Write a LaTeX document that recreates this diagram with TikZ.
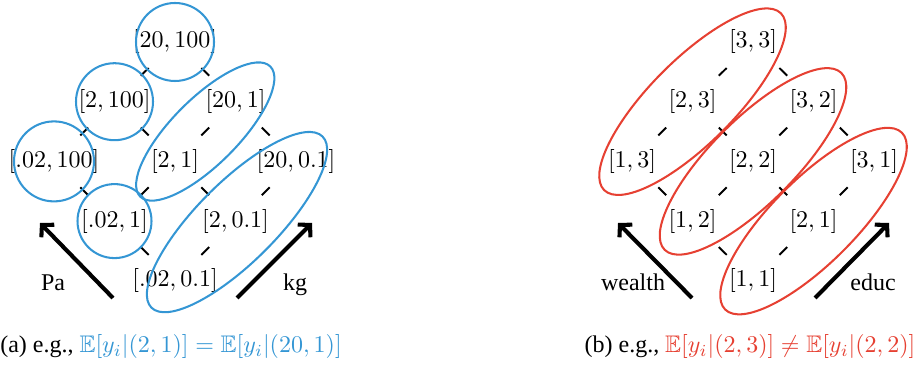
\documentclass[tikz,border=0pt]{standalone}
\usepackage[no-math]{fontspec}
\setmainfont{Liberation Serif}
\newfontfamily\tnr{Liberation Serif}
\usepackage{amssymb}
\usetikzlibrary{arrows.meta,calc}
\definecolor{myblue}{RGB}{52,150,212}
\definecolor{myred}{RGB}{230,64,50}
\tikzset{
  lbl/.style={inner sep=0pt},
  conn/.style={line width=0.8pt},
  ring/.style={line width=0.85pt},
  arr/.style={line width=1.7pt,-{Straight Barb[length=3.5pt,width=7.5pt]}},
  axlab/.style={inner sep=0pt,anchor=base,font=\tnr},
}
\newcommand{\dashlink}[2]{\draw[conn] ($(#1)!0.435!(#2)$) -- ($(#1)!0.565!(#2)$);}
\begin{document}
\begin{tikzpicture}[x=0.4167pt,y=-0.4167pt]
\useasboundingbox (0,0) rectangle (920,370);
% ---------- left lattice ----------
\node[lbl] (a22) at (175,42) {$[20,100]$};
\node[lbl] (a12) at (114.5,101.7) {$[2,100]$};
\node[lbl] (a21) at (235.5,101.7) {$[20,1]$};
\node[lbl] (a02) at (54,161.4) {$[.02,100]$};
\node[lbl] (a11) at (175,161.4) {$[2,1]$};
\node[lbl] (a20) at (296,161.4) {$[20,0.1]$};
\node[lbl] (a01) at (114.5,221.1) {$[.02,1]$};
\node[lbl] (a10) at (235.5,221.1) {$[2,0.1]$};
\node[lbl] (a00) at (175,280.8) {$[.02,0.1]$};
\dashlink{a22}{a12}
\dashlink{a22}{a21}
\dashlink{a12}{a02}
\dashlink{a12}{a11}
\dashlink{a21}{a11}
\dashlink{a21}{a20}
\dashlink{a02}{a01}
\dashlink{a11}{a01}
\dashlink{a11}{a10}
\dashlink{a20}{a10}
\dashlink{a01}{a00}
\dashlink{a10}{a00}
\draw[ring,myblue] (a22) circle (39);
\draw[ring,myblue] (a12) circle (38.5);
\draw[ring,myblue] (a02) circle (40);
\draw[ring,myblue] (a01) circle (37);
\coordinate (ea) at ($(a21)!0.5!(a11)$);
\draw[ring,myblue,rotate around={45:(ea)}] (ea) ellipse [x radius=92,y radius=33];
\coordinate (eb) at ($(a10)+(1.5,1)$);
\draw[ring,myblue,rotate around={45:(eb)}] (eb) ellipse [x radius=121,y radius=40];
\coordinate (pa0) at (113,298);
\coordinate (pa1) at (40,223);
\coordinate (kg0) at (237,298);
\coordinate (kg1) at (312,223);
\draw[arr] (pa0) -- (pa1);
\draw[arr] (kg0) -- (kg1);
\node[axlab] (pa) at (53,291) {Pa};
\node[axlab] (kg) at (295,291) {kg};
\node[axlab] (capa) at (171,352.5) {(a) e.g., \textcolor{myblue}{$\mathbb{E}[y_i|(2,1)]=\mathbb{E}[y_i|(20,1)]$}};
% ---------- right lattice ----------
\node[lbl] (b33) at (753,42) {$[3,3]$};
\node[lbl] (b23) at (692.5,101.7) {$[2,3]$};
\node[lbl] (b32) at (813.5,101.7) {$[3,2]$};
\node[lbl] (b13) at (632,161.4) {$[1,3]$};
\node[lbl] (b22) at (753,161.4) {$[2,2]$};
\node[lbl] (b31) at (874,161.4) {$[3,1]$};
\node[lbl] (b12) at (692.5,221.1) {$[1,2]$};
\node[lbl] (b21) at (813.5,221.1) {$[2,1]$};
\node[lbl] (b11) at (753,280.8) {$[1,1]$};
\dashlink{b33}{b23}
\dashlink{b33}{b32}
\dashlink{b23}{b13}
\dashlink{b23}{b22}
\dashlink{b32}{b22}
\dashlink{b32}{b31}
\dashlink{b13}{b12}
\dashlink{b22}{b12}
\dashlink{b22}{b21}
\dashlink{b31}{b21}
\dashlink{b12}{b11}
\dashlink{b21}{b11}
\draw[ring,myred,rotate around={45:(b23)}] (b23) ellipse [x radius=125,y radius=42];
\draw[ring,myred,rotate around={45:(b22)}] (b22) ellipse [x radius=125,y radius=42];
\draw[ring,myred,rotate around={45:(b21)}] (b21) ellipse [x radius=125,y radius=42];
\coordinate (w0) at (692,298);
\coordinate (w1) at (618,223);
\coordinate (e0) at (815,298);
\coordinate (e1) at (889,223);
\draw[arr] (w0) -- (w1);
\draw[arr] (e0) -- (e1);
\node[axlab] (wl) at (633,291) {wealth};
\node[axlab] (el) at (873,291) {educ};
\node[axlab] (capb) at (750,352.5) {(b) e.g., \textcolor{myred}{$\mathbb{E}[y_i|(2,3)]\neq\mathbb{E}[y_i|(2,2)]$}};
\end{tikzpicture}
\end{document}
